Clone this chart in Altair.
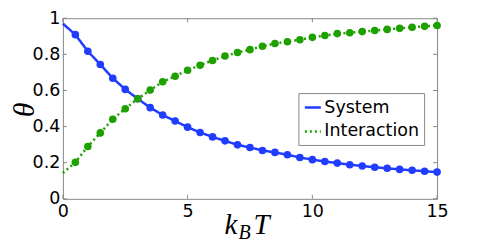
import altair as alt
import pandas as pd

# ---- data ----
kT_line = [0.0, 0.5, 1.0, 1.5, 2.0, 2.5, 3.0, 3.5, 4.0, 4.5, 5.0, 5.5, 6.0, 6.5, 7.0, 7.5,
           8.0, 8.5, 9.0, 9.5, 10.0, 10.5, 11.0, 11.5, 12.0, 12.5, 13.0, 13.5, 14.0, 14.5, 15.0]
system = [0.970, 0.909, 0.817, 0.744, 0.668, 0.606, 0.554, 0.505, 0.464, 0.431, 0.397, 0.367,
          0.343, 0.321, 0.299, 0.284, 0.268, 0.257, 0.244, 0.229, 0.217, 0.207, 0.198, 0.189,
          0.182, 0.175, 0.169, 0.163, 0.158, 0.153, 0.148]
interaction = [0.143, 0.202, 0.290, 0.365, 0.441, 0.499, 0.554, 0.602, 0.648, 0.679, 0.712, 0.740,
               0.766, 0.791, 0.810, 0.826, 0.845, 0.860, 0.870, 0.881, 0.894, 0.904, 0.915, 0.920,
               0.926, 0.932, 0.938, 0.944, 0.950, 0.955, 0.960]
series_names = ["System", "Interaction"]
series_colors = ["#1f3cff", "#1ea000"]
x_ticks = [0, 5, 10, 15]
y_ticks = [0, 0.2, 0.4, 0.6, 0.8, 1.0]

W, H = 375, 181
TICK = 4
FRAME = "#888888"

rows = []
for x, s, i in zip(kT_line, system, interaction):
    rows.append({"kT": x, "theta": s, "series": "System", "marker": x > 0})
    rows.append({"kT": x, "theta": i, "series": "Interaction", "marker": x > 0})
df = pd.DataFrame(rows)
pts = df[df["marker"]]

xscale = alt.Scale(domain=[0, 15], nice=False, zero=False)
yscale = alt.Scale(domain=[0, 1], nice=False, zero=False)

xaxis = alt.Axis(values=x_ticks, title=None, ticks=False, domain=False, grid=False,
                 labelFont="DejaVu Sans", labelFontSize=17.5, labelColor="black",
                 labelPadding=4, format="d", labelFlush=False, labelOverlap=False)
yaxis = alt.Axis(values=y_ticks, title="θ", ticks=False, domain=False, grid=False,
                 labelFont="DejaVu Sans", labelFontSize=17.5, labelColor="black",
                 labelPadding=3, labelFlush=False, labelOverlap=False,
                 labelExpr="datum.value == 0 ? '0' : datum.value == 1 ? '1' : format(datum.value, '.1f')",
                 titleFont="Liberation Serif", titleFontStyle="italic", titleFontWeight="normal",
                 titleFontSize=30, titleColor="black", titleBaseline="middle", titleAngle=270,
                 titleAlign="center", titleX=-38, titleY=H / 2 + 1)

legend = alt.Legend(title=None, orient="none", legendX=236, legendY=75,
                    labelFont="DejaVu Sans", labelFontSize=17.5, labelColor="black",
                    symbolType="stroke", symbolStrokeWidth=2.5, symbolSize=256,
                    fillColor="white", strokeColor=FRAME, padding=5, rowPadding=6,
                    labelOffset=2)

color = alt.Color("series:N", scale=alt.Scale(domain=series_names, range=series_colors), legend=legend)
dash = alt.StrokeDash("series:N", scale=alt.Scale(domain=series_names, range=[[1, 0], [2, 3]]), legend=legend)

X = lambda f: alt.X(f, scale=xscale, axis=xaxis)
Y = lambda f: alt.Y(f, scale=yscale, axis=yaxis)

lines = alt.Chart(df).mark_line(strokeWidth=2.5).encode(
    x=X("kT:Q"),
    y=Y("theta:Q"),
    color=color,
    strokeDash=dash,
    detail="series:N",
)

points = alt.Chart(pts).mark_circle(size=58, opacity=1).encode(
    x=X("kT:Q"),
    y=Y("theta:Q"),
    fill=alt.Fill("series:N", scale=alt.Scale(domain=series_names, range=series_colors), legend=None),
)

xt = pd.DataFrame({"v": x_ticks})
yt = pd.DataFrame({"v": y_ticks})
tick_style = dict(color=FRAME, strokeWidth=1)
tb = alt.Chart(xt).mark_rule(**tick_style).encode(x=X("v:Q"), y=alt.value(H), y2=alt.value(H - TICK))
tt = alt.Chart(xt).mark_rule(**tick_style).encode(x=X("v:Q"), y=alt.value(0), y2=alt.value(TICK))
tl = alt.Chart(yt).mark_rule(**tick_style).encode(y=Y("v:Q"), x=alt.value(0), x2=alt.value(TICK))
tr = alt.Chart(yt).mark_rule(**tick_style).encode(y=Y("v:Q"), x=alt.value(W - TICK), x2=alt.value(W))

def label(txt, x, y, size):
    return alt.Chart(pd.DataFrame({"t": [txt]})).mark_text(
        font="Liberation Serif", fontStyle="italic", fontSize=size, align="left",
        baseline="alphabetic", color="black").encode(x=alt.value(x), y=alt.value(y), text="t:N")

xtitle = label("k", 162, 216, 29) + label("B", 176, 221, 20) + label("T", 191, 216, 29)

chart = alt.layer(lines, points, tb, tt, tl, tr, xtitle).resolve_scale(
    x="shared", y="shared"
).properties(
    width=W, height=H,
    autosize=alt.AutoSizeParams(type="none"),
    padding={"left": 55, "top": 10, "right": 40, "bottom": 42},
).configure_view(stroke=FRAME, strokeWidth=1)

chart.save("out.html", embed_options={"renderer": "svg", "actions": False})
